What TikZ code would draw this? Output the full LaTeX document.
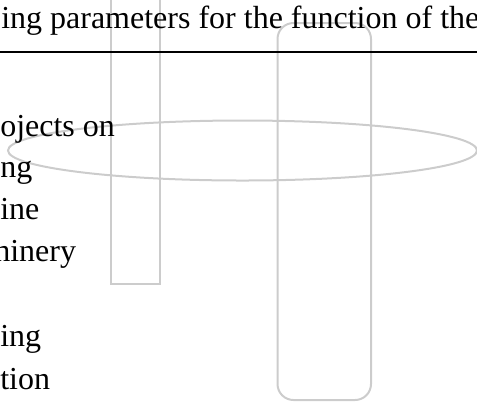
\documentclass[tikz,border=0pt]{standalone}
\usepackage{fontspec}
\setmainfont{Liberation Serif}
\usepackage{tikz}

\tikzset{
  grayshape/.style={draw={rgb,255:red,204;green,204;blue,204},line width=1.5pt},
  txt/.style={anchor=base west,inner sep=0pt,font=\fontsize{24}{28}\selectfont}
}

\begin{document}
\begin{tikzpicture}[x=0.75pt,y=0.75pt,yscale=-1,xscale=1]
\useasboundingbox (0,0) rectangle (477,405);

%Shape: Rectangle
\draw [grayshape] (110.5,-10) rectangle (160,284);
%Shape: Rounded Rect
\draw [grayshape,rounded corners=12pt] (277.5,23) rectangle (371,400);
%Shape: Ellipse
\draw [grayshape] (242.5,150.5) ellipse (234.5 and 30);

%Straight Lines
\draw [line width=1.5pt] (0,51.7) -- (477,51.7);

% Text Node
\node [txt] (title) at (1,28) {ing parameters for the function of the};
% Text Node
\node [txt] (rowa) at (0,136) {ojects on};
% Text Node
\node [txt] (rowb) at (0,177.5) {ng};
% Text Node
\node [txt] (rowc) at (0,219.5) {ine};
% Text Node
\node [txt] (rowd) at (-6,261) {hinery};
% Text Node
\node [txt] (rowe) at (0,346.5) {ing};
% Text Node
\node [txt] (rowf) at (0,389) {tion};

\end{tikzpicture}
\end{document}
